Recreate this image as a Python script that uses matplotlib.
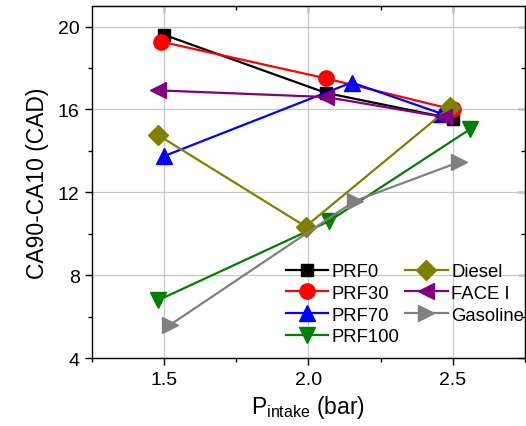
import numpy as np
from matplotlib import pyplot as plt

# Значения: давление на впуске и длительность горения
prf0_x = [1.50, 2.06, 2.50]
prf0_y = [19.6, 16.8, 15.55]

prf30_x = [1.49, 2.06, 2.50]
prf30_y = [19.27, 17.5, 16.0]

prf70_x = [1.50, 2.15, 2.46]
prf70_y = [13.75, 17.3, 15.8]

prf100_x = [1.48, 2.07, 2.56]
prf100_y = [6.8, 10.6, 15.05]

diesel_x = [1.48, 1.99, 2.49]
diesel_y = [14.75, 10.35, 16.1]

face_x = [1.48, 2.06, 2.47]
face_y = [16.92, 16.6, 15.63]

gasoline_x = [1.52, 2.16, 2.52]
gasoline_y = [5.6, 11.58, 13.45]

x_ticks = [1.5, 2.0, 2.5]
y_ticks = [4, 8, 12, 16, 20]


def main() -> None:
    """
    Главная функция
    """
    plt.rcParams['font.family'] = ['Liberation Sans', 'DejaVu Sans']

    fig = plt.figure(figsize=(5.26, 4.27), dpi=100)
    ax = fig.add_axes([0.175, 0.159, 0.823, 0.825])

    # серия: (x, y, подпись, цвет, маркер, размер маркера)
    series = [
        (prf0_x, prf0_y, "PRF0", "#000000", "s", 9),
        (prf30_x, prf30_y, "PRF30", "#ff0000", "o", 11),
        (prf70_x, prf70_y, "PRF70", "#0000ff", "^", 12),
        (prf100_x, prf100_y, "PRF100", "#008000", "v", 12),
        (diesel_x, diesel_y, "Diesel", "#808000", "D", 10),
        (face_x, face_y, "FACE I", "#800080", "<", 12),
        (gasoline_x, gasoline_y, "Gasoline", "#808080", ">", 12),
    ]
    for x, y, name, color, marker, ms in series:
        ax.plot(x, y, color=color, marker=marker, markersize=ms, lw=1.6, label=name, zorder=3)

    ax.set_xlim(1.25, 2.75)
    ax.set_ylim(4, 21)
    ax.set_xticks(x_ticks)
    ax.set_yticks(y_ticks)
    ax.set_xticks([1.25, 1.75, 2.25, 2.75], minor=True)
    ax.set_yticks([6, 10, 14, 18], minor=True)
    ax.grid(True, which="major", color="#c8c8c8", lw=0.9, zorder=0)

    ax.tick_params(which="both", direction="out", labelsize=14, width=1, pad=4)
    ax.tick_params(which="major", length=5)
    ax.tick_params(which="minor", length=3)
    for spine in ax.spines.values():
        spine.set_linewidth(1.0)

    # засечки сверху и справа направлены внутрь
    sec_x = ax.secondary_xaxis("top")
    sec_x.set_xticks(x_ticks)
    sec_x.set_xticks([1.75, 2.25], minor=True)
    sec_x.tick_params(which="both", direction="in", labeltop=False, width=1)
    sec_x.tick_params(which="major", length=5)
    sec_x.tick_params(which="minor", length=3)
    sec_y = ax.secondary_yaxis("right")
    sec_y.set_yticks(y_ticks)
    sec_y.set_yticks([6, 10, 14, 18], minor=True)
    sec_y.tick_params(which="both", direction="in", labelright=False, width=1)
    sec_y.tick_params(which="major", length=5)
    sec_y.tick_params(which="minor", length=3)

    ax.set_xlabel(r"P$_{\mathregular{intake}}$ (bar)", fontsize=16.5, labelpad=4)
    ax.set_ylabel("CA90-CA10 (CAD)", fontsize=16.5, labelpad=6)

    ax.legend(ncol=2, frameon=False, fontsize=13.3, loc="upper left",
              bbox_to_anchor=(0.447, 0.27), borderpad=0, borderaxespad=0,
              labelspacing=0.26, handlelength=2.3, handletextpad=0.2,
              columnspacing=0.3)

    fig.savefig("out.png", dpi=100)


if __name__ == '__main__':
    main()
